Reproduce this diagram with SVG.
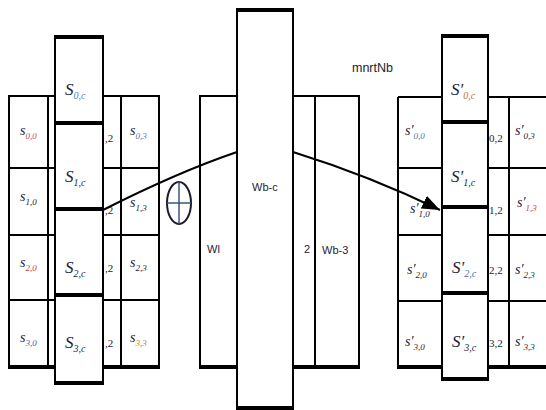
<svg xmlns="http://www.w3.org/2000/svg" width="546" height="410" viewBox="0 0 546 410">
<style>
.ln{stroke:#000;stroke-width:2;fill:none}
.thk{stroke:#000;stroke-width:4;fill:none}
.cell{fill:#fff;stroke:#000;stroke-width:2}
.s{font-family:"Liberation Serif",serif;font-style:italic;font-size:14px;fill:#1c1c3c}
.S{font-family:"Liberation Serif",serif;font-style:italic;font-size:17px;fill:#1c1c3c}
.sub{font-size:9px}
.subS{font-size:10px}
.frag{font-family:"Liberation Serif",serif;font-size:11px;fill:#1c1c3c}
.lab{font-family:"Liberation Sans",sans-serif;font-size:11px;fill:#1c1c3c}
.note{font-family:"Liberation Sans",sans-serif;font-size:12.5px;fill:#1c1c2c}
.conn{stroke:#000;stroke-width:2;fill:none}
</style>
<defs>
<marker id="arr" markerUnits="userSpaceOnUse" markerWidth="20" markerHeight="14" refX="18" refY="7" orient="auto">
<path d="M0,0 L18,7 L0,14 Z" fill="#000"/>
</marker>
</defs>
<rect width="546" height="410" fill="#fff"/>

<!-- Left grid -->
<g id="left-grid">
<rect class="ln" x="9" y="96" width="150" height="271"/>
<path class="ln" d="M9,168H159M9,235H159M9,300H159M48,96V367M121,96V367"/>
<path class="thk" d="M8,367H160"/>
<g id="L00"><text class="s" x="20" y="135">s<tspan class="sub" dy="4" fill="#d04868">0,0</tspan></text></g>
<g id="L10"><text class="s" x="20" y="201">s<tspan class="sub" dy="4">1,0</tspan></text></g>
<g id="L20"><text class="s" x="20" y="267">s<tspan class="sub" dy="4" fill="#c84040">2,0</tspan></text></g>
<g id="L30"><text class="s" x="20" y="342">s<tspan class="sub" dy="4" fill="#4060b0">3,0</tspan></text></g>
<g id="L02"><text class="frag" x="105" y="142">,2</text></g>
<g id="L12"><text class="frag" x="105" y="214">,2</text></g>
<g id="L22"><text class="frag" x="105" y="272">,2</text></g>
<g id="L32"><text class="frag" x="105" y="347">,2</text></g>
<g id="L03"><text class="s" x="130" y="135">s<tspan class="sub" dy="4" fill="#5078a8">0,3</tspan></text></g>
<g id="L13"><text class="s" x="130" y="207">s<tspan class="sub" dy="4">1,3</tspan></text></g>
<g id="L23"><text class="s" x="130" y="267">s<tspan class="sub" dy="4">2,3</tspan></text></g>
<g id="L33"><text class="s" x="130" y="342">s<tspan class="sub" dy="4" fill="#c08030">3,3</tspan></text></g>
</g>
<g id="left-column">
<g id="L0c"><rect class="cell" x="55" y="37" width="48" height="86"/><path class="thk" d="M54,37H104"/><text class="S" x="65" y="95">S<tspan class="subS" dy="4" fill="#5080c0">0,c</tspan></text></g>
<g id="L1c"><rect class="cell" x="55" y="123" width="48" height="86"/><path class="thk" d="M54,123H104"/><text class="S" x="65" y="182">S<tspan class="subS" dy="4">1,c</tspan></text></g>
<g id="L2c"><rect class="cell" x="55" y="209" width="48" height="86"/><path class="thk" d="M54,209H104"/><text class="S" x="65" y="273">S<tspan class="subS" dy="4">2,c</tspan></text></g>
<g id="L3c"><rect class="cell" x="55" y="295" width="48" height="88"/><path class="thk" d="M54,295H104M54,383H104"/><text class="S" x="65" y="348">S<tspan class="subS" dy="4">3,c</tspan></text></g>
</g>

<!-- Middle -->
<g id="W1"><rect class="ln" x="200" y="96" width="37" height="271" fill="#fff"/><path class="thk" d="M199,367H238"/><text class="lab" x="207" y="253">Wl</text></g>
<g id="Wb3"><rect class="ln" x="293" y="96" width="66" height="271"/><path class="ln" d="M315,96V367"/><path class="thk" d="M292,367H360"/><text class="lab" x="304" y="253">2</text><text class="lab" x="322" y="254">Wb-3</text></g>
<g id="Wbc"><rect class="cell" x="237" y="10" width="56" height="398"/><path class="thk" d="M236,10H294M236,408H294"/><text class="lab" x="252" y="191">Wb-c</text></g>
<g id="xor"><ellipse cx="179" cy="203" rx="12" ry="21" fill="#fff" stroke="#1c1c2c" stroke-width="2"/><path d="M179,182V224M167,203H191" stroke="#3a5878" stroke-width="1.5"/></g>
<g id="note"><text class="note" x="352" y="72">mnrtNb</text></g>

<!-- Right grid -->
<g id="right-grid">
<path class="ln" d="M398,97H546M398,97V367M398,168H546M398,235H546M398,301H546M509,97V367"/>
<path class="thk" d="M397,367H546"/>
<g id="R00"><text class="s" x="405" y="135">s′<tspan class="sub" dy="4" fill="#4080b0">0,0</tspan></text></g>
<g id="R10"><text class="s" x="410" y="213">s′<tspan class="sub" dy="4">1,0</tspan></text></g>
<g id="R20"><text class="s" x="407" y="274">s′<tspan class="sub" dy="4">2,0</tspan></text></g>
<g id="R30"><text class="s" x="405" y="346">s′<tspan class="sub" dy="4">3,0</tspan></text></g>
<g id="R02"><text class="frag" x="489" y="142">0,2</text></g>
<g id="R12"><text class="frag" x="489" y="214">1,2</text></g>
<g id="R22"><text class="frag" x="489" y="274">2,2</text></g>
<g id="R32"><text class="frag" x="489" y="347">3,2</text></g>
<g id="R03"><text class="s" x="515" y="135">s′<tspan class="sub" dy="4">0,3</tspan></text></g>
<g id="R13"><text class="s" x="517" y="207">s′<tspan class="sub" dy="4" fill="#c84040">1,3</tspan></text></g>
<g id="R23"><text class="s" x="515" y="274">s′<tspan class="sub" dy="4">2,3</tspan></text></g>
<g id="R33"><text class="s" x="515" y="346">s′<tspan class="sub" dy="4">3,3</tspan></text></g>
</g>
<g id="right-column">
<g id="R0c"><rect class="cell" x="442" y="36" width="46" height="86"/><path class="thk" d="M441,36H489"/><text class="S" x="451" y="95">S′<tspan class="subS" dy="4" fill="#c07030">0,c</tspan></text></g>
<g id="R1c"><rect class="cell" x="442" y="122" width="46" height="85"/><path class="thk" d="M441,122H489"/><text class="S" x="451" y="182">S′<tspan class="subS" dy="4">1,c</tspan></text></g>
<g id="R2c"><rect class="cell" x="442" y="207" width="46" height="86"/><path class="thk" d="M441,207H489"/><text class="S" x="452" y="273">S′<tspan class="subS" dy="4" fill="#4070b0">2,c</tspan></text></g>
<g id="R3c"><rect class="cell" x="442" y="293" width="46" height="86"/><path class="thk" d="M441,293H489M441,379H489"/><text class="S" x="452" y="347">S′<tspan class="subS" dy="4">3,c</tspan></text></g>
</g>

<!-- Connectors -->
<g id="connectors">
<path class="conn" d="M103,210 Q178,172 237,152"/>
<path class="conn" d="M293,152 Q370,176 440,210" marker-end="url(#arr)"/>
</g>
</svg>
